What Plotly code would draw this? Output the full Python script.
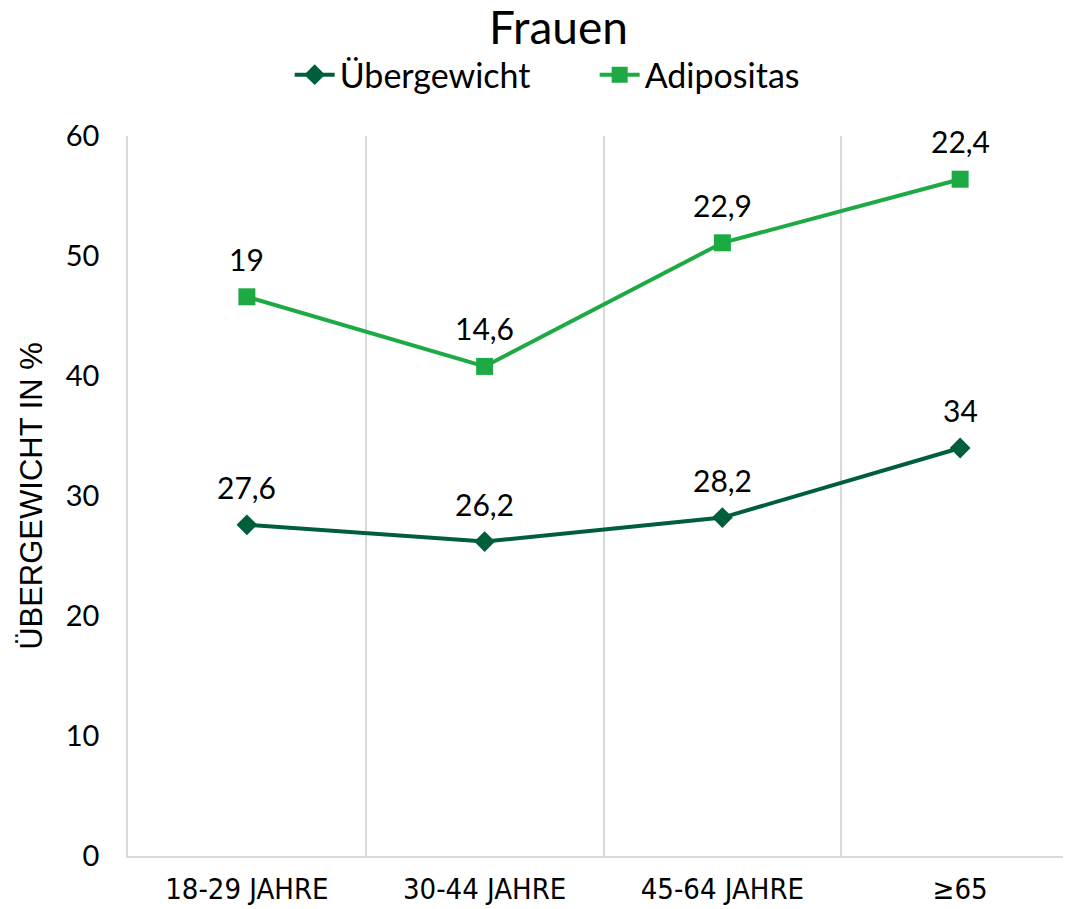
import plotly.graph_objects as go
import numpy as np

categories = ["18-29 JAHRE", "30-44 JAHRE", "45-64 JAHRE", "≥65"]
uebergewicht = [27.6, 26.2, 28.2, 34]
adipositas = [19, 14.6, 22.9, 22.4]
uebergewicht_labels = ["27,6", "26,2", "28,2", "34"]
adipositas_labels = ["19", "14,6", "22,9", "22,4"]

dark = "#005F3B"
light = "#1DAA45"
font_main = "Lato"
font_cond = "DejaVu Sans Condensed, DejaVu Sans"
font_title_y = "Liberation Sans, Arial"

# page body has an 8px margin; the plot area extends a little past the window
W, H = 1071, 901

fig = go.Figure()
fig.add_trace(go.Scatter(
    x=categories, y=uebergewicht, name="Übergewicht", stackgroup="s", fill="none",
    mode="lines+markers", line=dict(color=dark, width=4),
    marker=dict(symbol="diamond", size=16, color=dark)))
fig.add_trace(go.Scatter(
    x=categories, y=adipositas, name="Adipositas", stackgroup="s", fill="none",
    mode="lines+markers", line=dict(color=light, width=4),
    marker=dict(symbol="square", size=17, color=light)))

stacked = np.array(uebergewicht) + np.array(adipositas)
for c, v, t in zip(categories, uebergewicht, uebergewicht_labels):
    fig.add_annotation(x=c, y=v, text=t, showarrow=False, yshift=38,
                       font=dict(family=font_main, size=30, color="black"))
for c, v, t in zip(categories, stacked, adipositas_labels):
    fig.add_annotation(x=c, y=v, text=t, showarrow=False, yshift=38,
                       font=dict(family=font_main, size=30, color="black"))

fig.update_layout(
    width=W, height=H,
    margin=dict(l=120, r=0, t=128, b=53, autoexpand=False),
    paper_bgcolor="white", plot_bgcolor="white",
    title=dict(text="Frauen", x=0.514, xref="container", xanchor="center",
               y=0.996, yref="container", yanchor="top", pad=dict(t=0, b=0),
               font=dict(family=font_main, size=46, color="black")),
    legend=dict(orientation="h", x=0.263, xref="container", xanchor="left",
                y=0.9256, yref="container", yanchor="middle",
                font=dict(family=font_main, size=34, color="black"),
                itemwidth=40, entrywidth=250, entrywidthmode="pixels",
                tracegroupgap=0),
    showlegend=True,
)
fig.update_xaxes(type="category", range=[-0.5, 3.5], tickson="boundaries",
                 showgrid=True, gridcolor="#D9D9D9", gridwidth=1.5,
                 showline=True, linecolor="#D9D9D9", linewidth=1.5,
                 ticks="", ticklabelstandoff=6, automargin=False,
                 tickfont=dict(family=font_cond, size=29, color="black"))
fig.update_yaxes(range=[0, 60], dtick=10, showgrid=False, zeroline=False,
                 showline=True, linecolor="#D9D9D9", linewidth=1.5,
                 ticks="", ticklabelstandoff=21, automargin=False,
                 tickfont=dict(family=font_main, size=29, color="black"),
                 title=dict(text="ÜBERGEWICHT IN %", standoff=14,
                            font=dict(family=font_title_y, size=31, color="black")))

fig.write_html("out.html")
